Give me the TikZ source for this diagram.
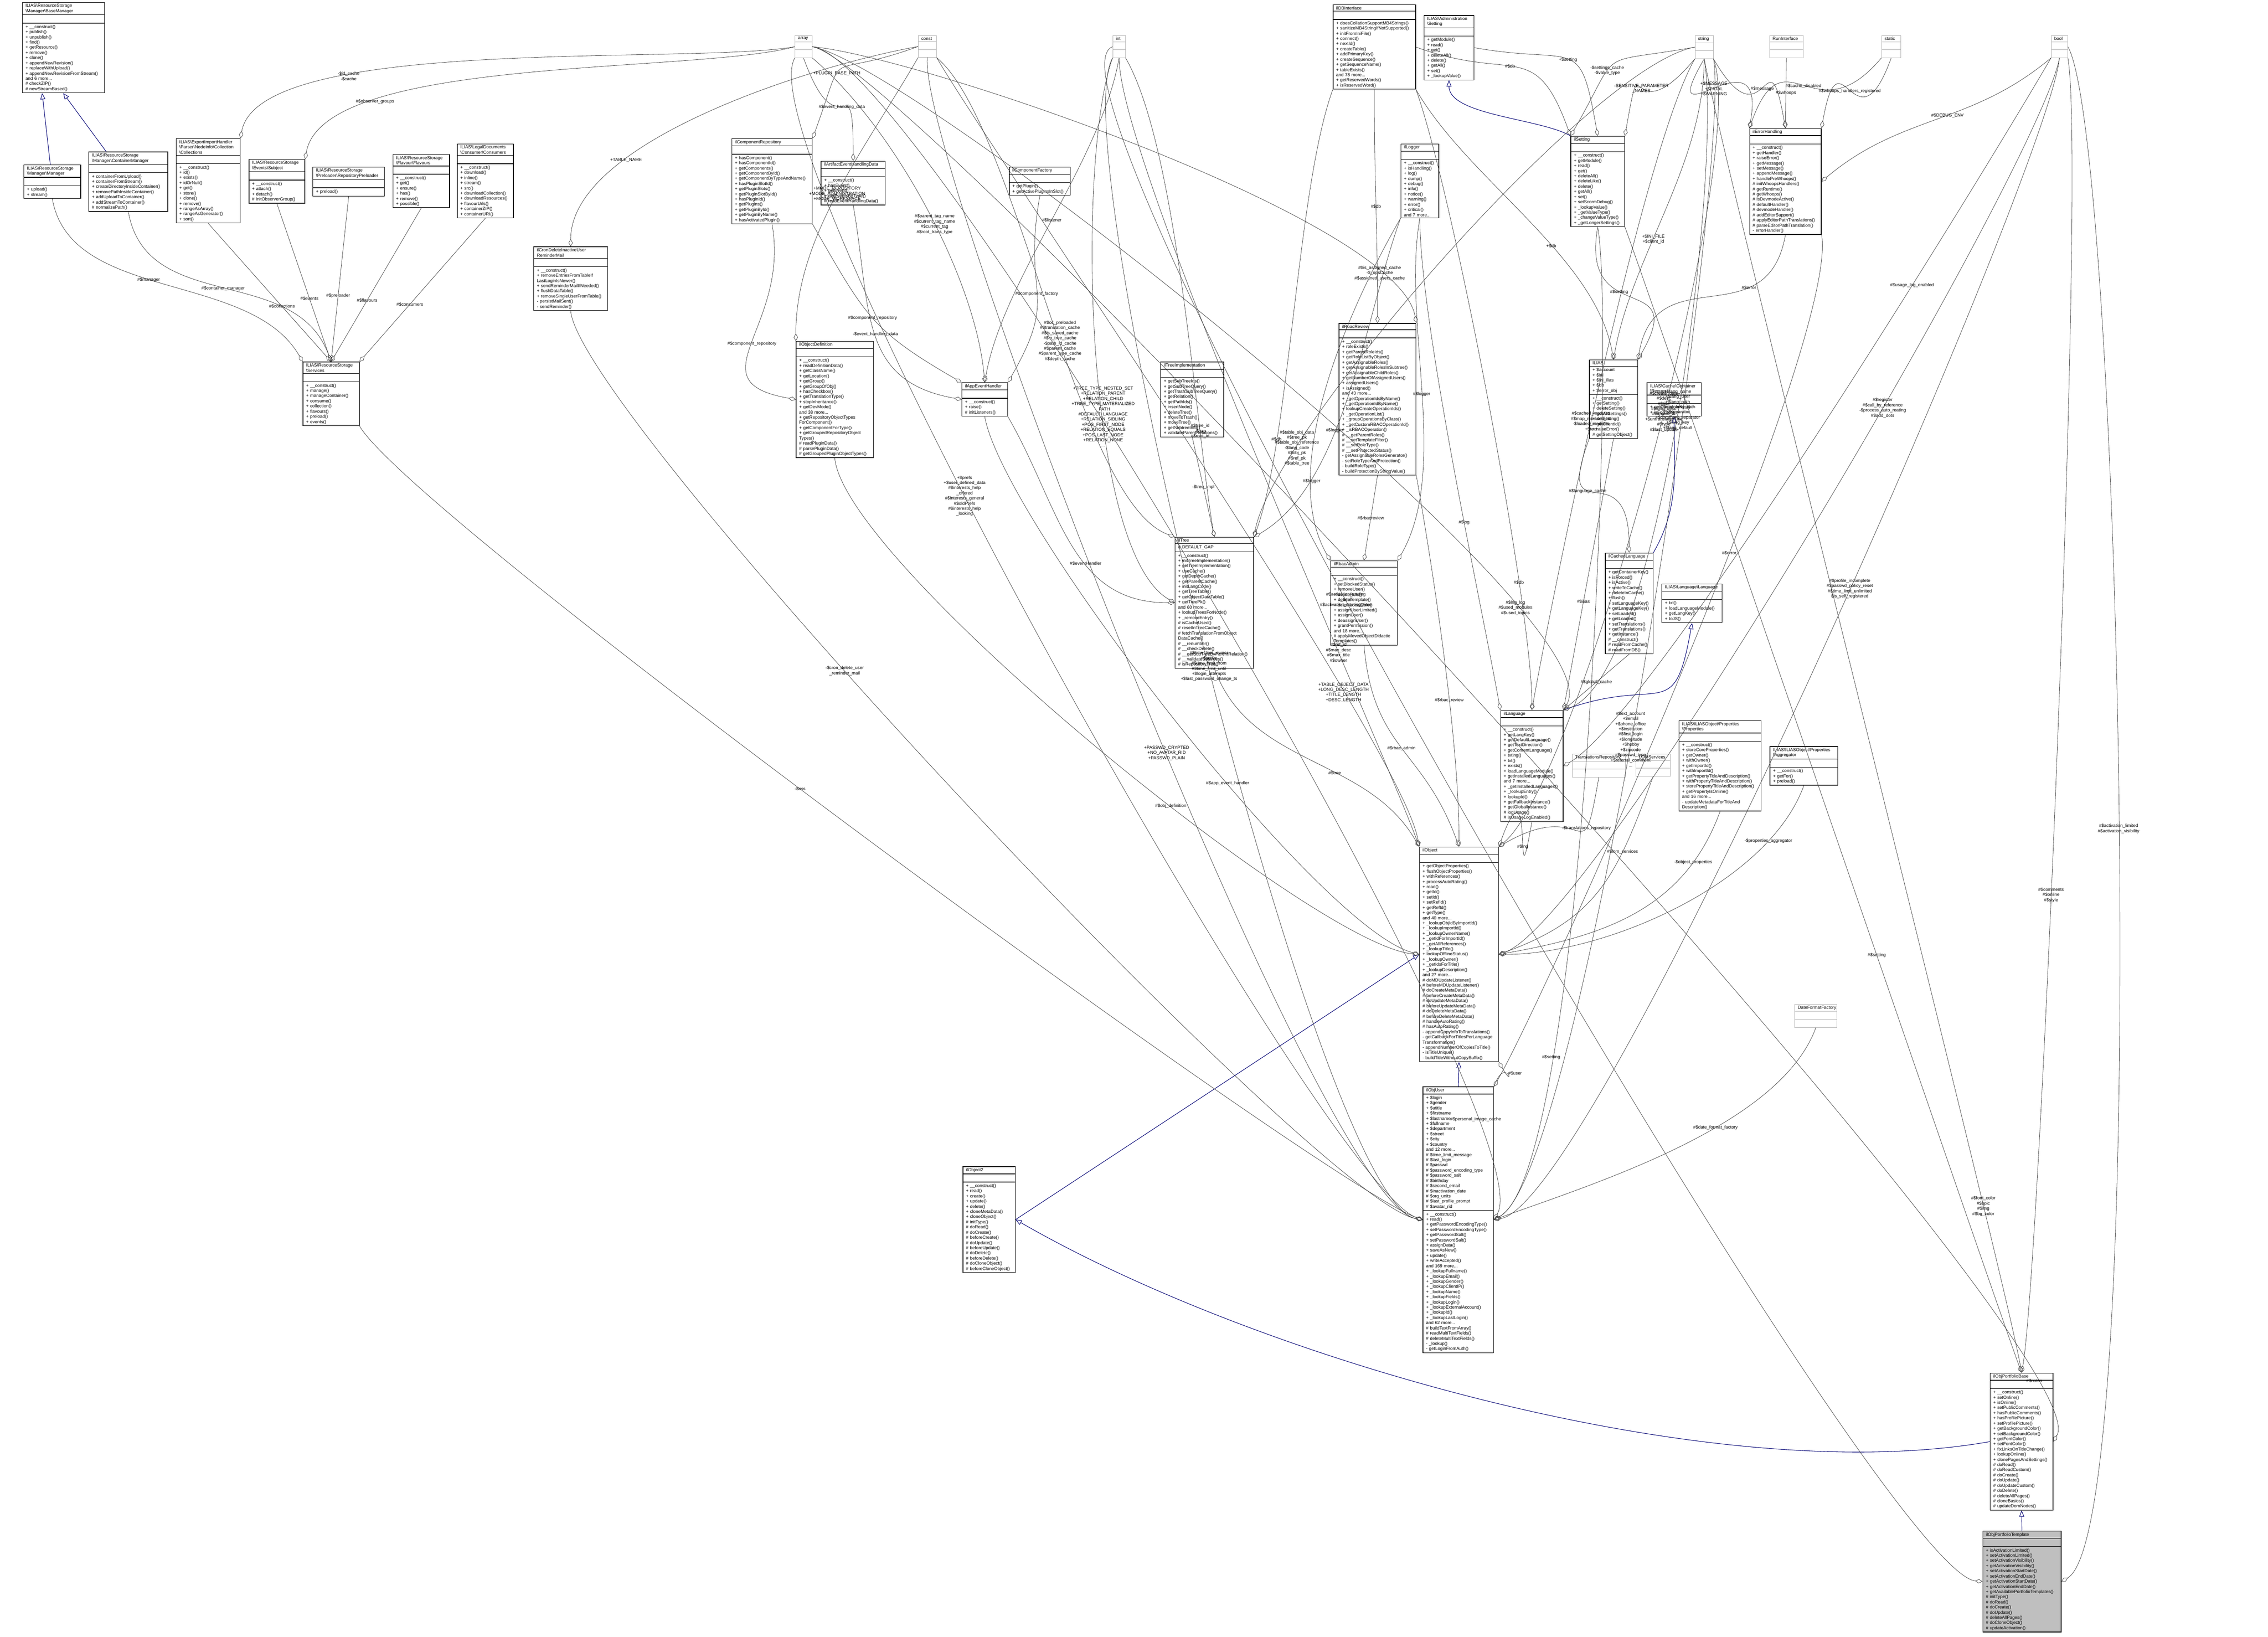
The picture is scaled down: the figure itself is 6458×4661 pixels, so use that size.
\documentclass[tikz,border=0pt]{standalone}
\usepackage{fontspec}
\setmainfont{Liberation Sans}
\usetikzlibrary{shapes.multipart,arrows.meta}

\newdimen\pxunit \pxunit=0.005cm
\newcommand{\bs}{\textbackslash}
% one class box: name, x, y, width (px), title, attributes, methods
\newcommand{\classbox}[8][]{%
  \node[umlclass,#1,text width=\dimexpr#4\pxunit-2.5pt\relax] (#2) at (#3)
    {#5\nodepart{two}\strut#6\nodepart{three}\strut#7#8};}

\tikzset{
  umlclass/.style={rectangle split, rectangle split parts=3, draw=black,
    line width=0.25pt, anchor=north west, inner xsep=1.25pt, inner ysep=0.5pt,
    rectangle split part align={center,left,left}, align=left,
    font=\fontsize{1.8}{2.1}\selectfont},
  typebox/.style={umlclass, draw=gray!60, line width=0.15pt},
  agg/.style={-{Diamond[open,length=3pt,width=1.7pt,line width=0.15pt]}, draw=black!75, line width=0.15pt},
  inh/.style={-{Triangle[open,length=2.5pt,width=2pt,line width=0.2pt]}, draw=blue!45!black, line width=0.2pt},
  lbl/.style={font=\fontsize{1.8}{2.1}\selectfont, align=center, inner sep=0.25pt}
}

\begin{document}
\begin{tikzpicture}[x=0.005cm, y=-0.005cm, every to/.append style={distance=1.5cm}]
\useasboundingbox (0,0) rectangle (6458,4661);

% types without documentation
\foreach \nm/\x/\w/\txt in {tarray/2263/49/array, tconst/2614/52/const, tint/3168/36/int,
  tstring/4826/52/string, trun/5038/96/RunInterface, tstatic/5357/55/static, tbool/5840/47/bool}
  \node[typebox, text width=\dimexpr\w\pxunit-2.5pt\relax] (\nm) at (\x,101)
    {\txt\nodepart{two}\strut\nodepart{three}\strut};

% resource storage
\classbox{bm}{63,6}{234}{ILIAS\bs ResourceStorage\\\bs Manager\bs BaseManager}{}{+ \_\_construct()\\+ publish()\\+ unpublish()\\+ find()\\+ getResource()\\+ remove()\\+ clone()\\+ appendNewRevision()\\+ replaceWithUpload()\\+ appendNewRevisionFromStream()\\and 6 more...\\\# checkZIP()\\\# newStreamBased()}{}
\classbox{mgr}{67,469}{162}{ILIAS\bs ResourceStorage\\\bs Manager\bs Manager}{}{+ upload()\\+ stream()}{}
\classbox{cmgr}{252,432}{225}{ILIAS\bs ResourceStorage\\\bs Manager\bs ContainerManager}{}{+ containerFromUpload()\\+ containerFromStream()\\+ createDirectoryInsideContainer()\\+ removePathInsideContainer()\\+ addUploadToContainer()\\+ addStreamToContainer()\\\# normalizePath()}{}
\classbox{coll}{501,394}{182}{ILIAS\bs ExportImportHandler\\\bs Parser\bs NodeInfo\bs Collection\\\bs Collections}{}{+ \_\_construct()\\+ id()\\+ exists()\\+ idOrNull()\\+ get()\\+ store()\\+ clone()\\+ remove()\\+ rangeAsArray()\\+ rangeAsGenerator()\\+ sort()}{}
\classbox{subj}{708,453}{159}{ILIAS\bs ResourceStorage\\\bs Events\bs Subject}{}{+ \_\_construct()\\+ attach()\\+ detach()\\\# initObserverGroup()}{}
\classbox{prel}{890,475}{204}{ILIAS\bs ResourceStorage\\\bs Preloader\bs RepositoryPreloader}{}{+ preload()}{}
\classbox{flav}{1118,439}{161}{ILIAS\bs ResourceStorage\\\bs Flavour\bs Flavours}{}{+ \_\_construct()\\+ get()\\+ ensure()\\+ has()\\+ remove()\\+ possible()}{}
\classbox{cons}{1301,409}{160}{ILIAS\bs LegalDocuments\\\bs Consumer\bs Consumers}{}{+ \_\_construct()\\+ download()\\+ inline()\\+ stream()\\+ src()\\+ downloadCollection()\\+ downloadResources()\\+ flavourUrls()\\+ containerZIP()\\+ containerURI()}{}
\classbox{serv}{862,1030}{160}{ILIAS\bs ResourceStorage\\\bs Services}{}{+ \_\_construct()\\+ manage()\\+ manageContainer()\\+ consume()\\+ collection()\\+ flavours()\\+ preload()\\+ events()}{}
\classbox{cron}{1519,702}{210}{ilCronDeleteInactiveUser\\ReminderMail}{}{+ \_\_construct()\\+ removeEntriesFromTableIf\\LastLoginIsNewer()\\+ sendReminderMailIfNeeded()\\+ flushDataTable()\\+ removeSingleUserFromTable()\\- persistMailSent()\\- sendReminder()}{}

% components and events
\classbox{crep}{2083,394}{229}{ilComponentRepository}{}{+ hasComponent()\\+ hasComponentId()\\+ getComponents()\\+ getComponentById()\\+ getComponentByTypeAndName()\\+ hasPluginSlotId()\\+ getPluginSlots()\\+ getPluginSlotById()\\+ hasPluginId()\\+ getPlugins()\\+ getPluginById()\\+ getPluginByName()\\+ hasActivatedPlugin()}{}
\classbox{artf}{2337,458}{183}{ilArtifactEventHandlingData}{}{+ \_\_construct()\\+ hasEvent()\\+ getEvent()\\+ getEventsByType()\\\# readEventHandlingData()}{}
\classbox{cfac}{2873,475}{174}{ilComponentFactory}{}{+ getPlugin()\\+ getActivePluginsInSlot()}{}
\classbox{odef}{2266,971}{220}{ilObjectDefinition}{}{+ \_\_construct()\\+ readDefinitionData()\\+ getClassName()\\+ getLocation()\\+ getGroup()\\+ getGroupOfObj()\\+ hasCheckbox()\\+ getTranslationType()\\+ stopInheritance()\\+ getDevMode()\\and 38 more...\\+ getRepositoryObjectTypes\\ForComponent()\\+ getComponentForType()\\+ getGroupedRepositoryObject\\Types()\\\# readPluginData()\\\# parsePluginData()\\\# getGroupedPluginObjectTypes()}{}
\classbox{aeh}{2738,1089}{130}{ilAppEventHandler}{}{+ \_\_construct()\\+ raise()\\\# initListeners()}{}

% database, settings, logging
\classbox{db}{3795,13}{235}{ilDBInterface}{}{+ doesCollationSupportMB4Strings()\\+ sanitizeMB4StringIfNotSupported()\\+ initFromIniFile()\\+ connect()\\+ nextId()\\+ createTable()\\+ addPrimaryKey()\\+ createSequence()\\+ getSequenceName()\\+ tableExists()\\and 78 more...\\+ getReservedWords()\\+ isReservedWord()}{}
\classbox{aset}{4054,43}{142}{ILIAS\bs Administration\\\bs Setting}{}{+ getModule()\\+ read()\\+ get()\\+ deleteAll()\\+ delete()\\+ getAll()\\+ set()\\+ \_lookupValue()}{}
\classbox{log}{3988,409}{108}{ilLogger}{}{+ \_\_construct()\\+ isHandling()\\+ log()\\+ dump()\\+ debug()\\+ info()\\+ notice()\\+ warning()\\+ error()\\+ critical()\\and 7 more...}{}
\classbox{iset}{4472,387}{153}{ilSetting}{}{+ \_\_construct()\\+ getModule()\\+ read()\\+ get()\\+ deleteAll()\\+ deleteLike()\\+ delete()\\+ getAll()\\+ set()\\+ setScormDebug()\\+ \_lookupValue()\\+ \_getValueType()\\+ \_changeValueType()\\+ \_getLongerSettings()}{}
\classbox{err}{4981,365}{204}{ilErrorHandling}{}{+ \_\_construct()\\+ getHandler()\\+ raiseError()\\+ getMessage()\\+ setMessage()\\+ appendMessage()\\+ handlePreWhoops()\\\# initWhoopsHandlers()\\\# getRuntime()\\\# getWhoops()\\\# isDevmodeActive()\\\# defaultHandler()\\\# devmodeHandler()\\\# addEditorSupport()\\\# applyEditorPathTranslations()\\\# parseEditorPathTranslation()\\- errorHandler()}{}

% tree and rbac
\classbox{timpl}{3304,1030}{180}{ilTreeImplementation}{}{+ getSubTreeIds()\\+ getSubTreeQuery()\\+ getTrashSubTreeQuery()\\+ getRelation()\\+ getPathIds()\\+ insertNode()\\+ deleteTree()\\+ moveToTrash()\\+ moveTree()\\+ getSubtreeInfo()\\+ validateParentRelations()}{}
\classbox{tree}{3345,1529}{224}{ilTree}{\# DEFAULT\_GAP}{+ \_\_construct()\\+ initTreeImplementation()\\+ getTreeImplementation()\\+ useCache()\\+ getDepthCache()\\+ getParentCache()\\+ initLangCode()\\+ getTreeTable()\\+ getObjectDataTable()\\+ getTreePk()\\and 60 more...\\+ lookupTreesForNode()\\+ \_removeEntry()\\\# isCacheUsed()\\\# resetInTreeCache()\\\# fetchTranslationFromObject\\DataCache()\\\# \_\_renumber()\\\# \_\_checkDelete()\\\# \_\_getSubTreeByParentRelation()\\\# \_\_validateSubtrees()\\\# isRepositoryTree()}{}
\classbox{rrev}{3812,920}{219}{ilRbacReview}{}{+ \_\_construct()\\+ roleExists()\\+ getParentRoleIds()\\+ getRoleListByObject()\\+ getAssignableRoles()\\+ getAssignableRolesInSubtree()\\+ getAssignableChildRoles()\\+ getNumberOfAssignedUsers()\\+ assignedUsers()\\+ isAssigned()\\and 43 more...\\+ \_getOperationIdsByName()\\+ \_getOperationIdByName()\\+ lookupCreateOperationIds()\\+ \_getOperationList()\\+ \_groupOperationsByClass()\\+ \_getCustomRBACOperationId()\\+ \_isRBACOperation()\\\# \_\_getParentRoles()\\\# \_\_setTemplateFilter()\\\# \_\_setRoleType()\\\# \_\_setProtectedStatus()\\- getAssignableRolesGenerator()\\- setRoleTypeAndProtection()\\- buildRoleType()\\- buildProtectionByStringValue()}{}
\classbox{radm}{3788,1596}{190}{ilRbacAdmin}{}{+ \_\_construct()\\+ setBlockedStatus()\\+ removeUser()\\+ deleteRole()\\+ deleteTemplate()\\+ deleteLocalRole()\\+ assignUserLimited()\\+ assignUser()\\+ deassignUser()\\+ grantPermission()\\and 18 more...\\\# applyMovedObjectDidactic\\Templates()}{}

% language
\classbox{ilias}{4525,1024}{137}{ILIAS}{+ \$account\\+ \$ini\\+ \$ini\_ilias\\+ \$db\\+ \$error\_obj}{+ \_\_construct()\\+ getSetting()\\+ deleteSetting()\\+ getAllSettings()\\+ setSetting()\\+ getClientId()\\+ raiseError()\\\# getSettingObject()}{}
\classbox{req}{4689,1089}{154}{ILIAS\bs Cache\bs Container\\\bs Request}{}{+ getContainerKey()\\+ isForced()}{}
\classbox{clang}{4570,1574}{136}{ilCachedLanguage}{}{+ getContainerKey()\\+ isForced()\\+ isActive()\\+ writeToCache()\\+ deleteInCache()\\+ flush()\\+ setLanguageKey()\\+ getLanguageKey()\\+ setLoaded()\\+ getLoaded()\\+ setTranslations()\\+ getTranslations()\\+ getInstance()\\\# \_\_construct()\\\# readFromCache()\\\# readFromDB()}{}
\classbox{llang}{4731,1662}{172}{ILIAS\bs Language\bs Language}{}{+ txt()\\+ loadLanguageModule()\\+ getLangKey()\\+ toJS()}{}
\classbox{lang}{4272,2022}{178}{ilLanguage}{}{+ \_\_construct()\\+ getLangKey()\\+ getDefaultLanguage()\\+ getTextDirection()\\+ getContentLanguage()\\+ txtlng()\\+ txt()\\+ exists()\\+ loadLanguageModule()\\+ getInstalledLanguages()\\and 7 more...\\+ \_getInstalledLanguages()\\+ \_lookupEntry()\\+ lookupId()\\+ getFallbackInstance()\\+ getGlobalInstance()\\\# logUsage()\\\# isUsageLogEnabled()}{}
\classbox[typebox]{trep}{4476,2147}{152}{TranslationsRepository}{}{}{}
\classbox[typebox]{lom}{4657,2147}{99}{LOMServices}{}{}{}
\classbox{props}{4780,2051}{234}{ILIAS\bs ILIASObject\bs Properties\\\bs Properties}{}{+ \_\_construct()\\+ storeCoreProperties()\\+ getOwner()\\+ withOwner()\\+ getImportId()\\+ withImportId()\\+ getPropertyTitleAndDescription()\\+ withPropertyTitleAndDescription()\\+ storePropertyTitleAndDescription()\\+ getPropertyIsOnline()\\and 16 more...\\- updateMetadataForTitleAnd\\Description()}{}
\classbox{aggr}{5039,2125}{193}{ILIAS\bs ILIASObject\bs Properties\\\bs Aggregator}{}{+ \_\_construct()\\+ getFor()\\+ preload()}{}
\classbox[typebox]{dff}{5110,2860}{120}{DateFormatFactory}{}{}{}

% objects
\classbox{obj}{4041,2411}{225}{ilObject}{}{+ getObjectProperties()\\+ flushObjectProperties()\\+ withReferences()\\+ processAutoRating()\\+ read()\\+ getId()\\+ setId()\\+ setRefId()\\+ getRefId()\\+ getType()\\and 40 more...\\+ \_lookupObjIdByImportId()\\+ \_lookupImportId()\\+ \_lookupOwnerName()\\+ \_getIdForImportId()\\+ \_getAllReferences()\\+ \_lookupTitle()\\+ lookupOfflineStatus()\\+ \_lookupOwner()\\+ \_getIdsForTitle()\\+ \_lookupDescription()\\and 27 more...\\\# doMDUpdateListener()\\\# beforeMDUpdateListener()\\\# doCreateMetaData()\\\# beforeCreateMetaData()\\\# doUpdateMetaData()\\\# beforeUpdateMetaData()\\\# doDeleteMetaData()\\\# beforeDeleteMetaData()\\\# handleAutoRating()\\\# hasAutoRating()\\- appendCopyInfoToTranslations()\\- getCallbackForTitlesPerLanguage\\Transformation()\\- appendNumberOfCopiesToTitle()\\- isTitleUnique()\\- buildTitleWithoutCopySuffix()}{}
\classbox{user}{4051,3094}{201}{ilObjUser}{+ \$login\\+ \$gender\\+ \$utitle\\+ \$firstname\\+ \$lastname\\+ \$fullname\\+ \$department\\+ \$street\\+ \$city\\+ \$country\\and 12 more...\\\# \$time\_limit\_message\\\# \$last\_login\\\# \$passwd\\\# \$password\_encoding\_type\\\# \$password\_salt\\\# \$birthday\\\# \$second\_email\\\# \$inactivation\_date\\\# \$org\_units\\\# \$last\_profile\_prompt\\\# \$avatar\_rid}{+ \_\_construct()\\+ read()\\+ getPasswordEncodingType()\\+ setPasswordEncodingType()\\+ getPasswordSalt()\\+ setPasswordSalt()\\+ assignData()\\+ saveAsNew()\\+ update()\\+ writeAccepted()\\and 169 more...\\+ \_lookupFullname()\\+ \_lookupEmail()\\+ \_lookupGender()\\+ \_lookupClientIP()\\+ \_lookupName()\\+ \_lookupFields()\\+ \_lookupLogin()\\+ \_lookupExternalAccount()\\+ \_lookupId()\\+ \_lookupLastLogin()\\and 62 more...\\\# buildTextFromArray()\\\# readMultiTextFields()\\\# deleteMultiTextFields()\\- \_lookup()\\- getLoginFromAuth()}{}
\classbox{obj2}{2741,3321}{149}{ilObject2}{}{+ \_\_construct()\\+ read()\\+ create()\\+ update()\\+ delete()\\+ cloneMetaData()\\+ cloneObject()\\\# initType()\\\# doRead()\\\# doCreate()\\\# beforeCreate()\\\# doUpdate()\\\# beforeUpdate()\\\# doDelete()\\\# beforeDelete()\\\# doCloneObject()\\\# beforeCloneObject()}{}
\classbox{pbase}{5666,3909}{179}{ilObjPortfolioBase}{}{+ \_\_construct()\\+ setOnline()\\+ isOnline()\\+ setPublicComments()\\+ hasPublicComments()\\+ hasProfilePicture()\\+ setProfilePicture()\\+ getBackgroundColor()\\+ setBackgroundColor()\\+ getFontColor()\\+ setFontColor()\\+ fixLinksOnTitleChange()\\+ lookupOnline()\\+ clonePagesAndSettings()\\\# doRead()\\\# doReadCustom()\\\# doCreate()\\\# doUpdate()\\\# doUpdateCustom()\\\# doDelete()\\\# deleteAllPages()\\\# cloneBasics()\\\# updateDomNodes()}{}
\classbox[fill=gray!50]{ptpl}{5645,4359}{223}{ilObjPortfolioTemplate}{}{+ isActivationLimited()\\+ setActivationLimited()\\+ setActivationVisibility()\\+ getActivationVisibility()\\+ setActivationStartDate()\\+ setActivationEndDate()\\+ getActivationStartDate()\\+ getActivationEndDate()\\+ getAvailablePortfolioTemplates()\\\# initType()\\\# doRead()\\\# doCreate()\\\# doUpdate()\\\# deleteAllPages()\\\# doCloneObject()\\\# updateActivation()}{}

% inheritance
\draw[inh] (mgr) -- (bm.south west -| 120,0);
\draw[inh] (cmgr) -- (bm.south east -| 180,0);
\draw[inh] (iset.north west) to[out=150,in=-90,distance=0.5cm] (aset.south);
\draw[inh] (clang.north east) to[out=60,in=-90,distance=0.75cm] (req.south);
\draw[inh] (lang.north east) to[out=20,in=-100] (llang.south);
\draw[inh] (user.north) -- (obj.south);
\draw[inh] (obj2.east) -- (obj.west);
\draw[inh] (pbase.west) to[out=190,in=-30,distance=4cm] (obj2.east);
\draw[inh] (ptpl.north) -- (pbase.south);

% resource storage members
\draw[agg] (mgr.south) to[out=-80,in=120] node[lbl,pos=0.45]{\#\$manager} (serv.north west);
\draw[agg] (cmgr.south) to[out=-80,in=110] node[lbl,pos=0.5]{\#\$container\_manager} (serv.north);
\draw[agg] (coll.south) -- node[lbl,pos=0.6]{\#\$collections} (serv.north);
\draw[agg] (subj.south) -- node[lbl,pos=0.6]{\#\$events} (serv.north);
\draw[agg] (prel.south) -- node[lbl,pos=0.6]{\#\$preloader} (serv.north);
\draw[agg] (flav.south) -- node[lbl,pos=0.6]{\#\$flavours} (serv.north);
\draw[agg] (cons.south) -- node[lbl,pos=0.6]{\#\$consumers} (serv.north east);
\draw[agg] (tarray.west) to[out=190,in=80] node[lbl,pos=0.7]{-\$id\_cache\\-\$cache} (coll.north east);
\draw[agg] (tarray.west) to[out=195,in=80] node[lbl,pos=0.75]{\#\$observer\_groups} (subj.north east);
\draw[agg] (tconst.west) to[out=190,in=90] node[lbl,pos=0.7]{+TABLE\_NAME} (cron.north);
\draw[agg] (serv.south east) to[out=-60,in=160] node[lbl,pos=0.45]{-\$irss} (user.west);
\draw[agg] (cron.south) to[out=-85,in=170] node[lbl,pos=0.4]{-\$cron\_delete\_user\\\_reminder\_mail} (user.west);

% components
\draw[agg] (tconst.south west) to[out=-120,in=90] node[lbl,pos=0.5]{+MODE\_REPOSITORY\\+MODE\_ADMINISTRATION\\+MODE\_WORKSPACE} (odef.north west);
\draw[agg] (tconst.west) to[out=200,in=70] node[lbl,pos=0.6]{+PLUGIN\_BASE\_PATH} (crep.north east);
\draw[agg] (tarray.south) to[out=-70,in=90] node[lbl,pos=0.5]{\#\$event\_handling\_data} (artf.north);
\draw[agg] (crep.south) to[out=-80,in=170] node[lbl,pos=0.5]{\#\$component\_repository} (odef.west);
\draw[agg] (crep.south east) to[out=-60,in=150] node[lbl,pos=0.5]{\#\$component\_repository} (aeh.north west);
\draw[agg] (artf.south) to[out=-80,in=170] node[lbl,pos=0.5]{-\$event\_handling\_data} (aeh.west);
\draw[agg] (cfac.south) to[out=-100,in=60] node[lbl,pos=0.5]{\#\$component\_factory} (aeh.north east);
\draw[agg] (tarray.south east) to[out=-40,in=95] node[lbl,pos=0.55]{\#\$parent\_tag\_name\\\#\$current\_tag\_name\\\#\$current\_tag\\\#\$root\_trans\_type} (aeh.north);
\draw[agg] (tint.south) to[out=-100,in=80] node[lbl,pos=0.5]{\#\$listener} (aeh.north);
\draw[agg] (odef.south) to[out=-85,in=175] node[lbl,pos=0.6]{\#\$obj\_definition} (obj.west);
\draw[agg] (aeh.south) to[out=-80,in=165] node[lbl,pos=0.6]{\#\$app\_event\_handler} (obj.west);
\draw[agg] (aeh.south east) to[out=-60,in=180] node[lbl,pos=0.6]{\#\$eventHandler} (tree.west);
\draw[agg] (tconst.south east) to[out=-60,in=100] node[lbl,pos=0.75]{+TABLE\_OBJECT\_DATA\\+LONG\_DESC\_LENGTH\\+TITLE\_LENGTH\\+DESC\_LENGTH} (obj.north west);
\draw[agg] (tint.south) to[out=-90,in=110] node[lbl,pos=0.7]{\#\$ref\_id\\\#\$max\_desc\\\#\$max\_title\\\#\$owner} (obj.north west);

% tree
\draw[agg] (tconst.south east) to[out=-40,in=160] node[lbl,pos=0.55]{\#\$oc\_preloaded\\\#\$translation\_cache\\\#\$is\_saved\_cache\\\#\$in\_tree\_cache\\-\$path\_id\_cache\\\#\$parent\_cache\\\#\$parent\_type\_cache\\\#\$depth\_cache} (tree.north west);
\draw[agg] (tint.south west) to[out=-110,in=150] node[lbl,pos=0.6]{+TREE\_TYPE\_NESTED\_SET\\+RELATION\_PARENT\\+RELATION\_CHILD\\+TREE\_TYPE\_MATERIALIZED\\\_PATH\\\#DEFAULT\_LANGUAGE\\+RELATION\_SIBLING\\+POS\_FIRST\_NODE\\+RELATION\_EQUALS\\+POS\_LAST\_NODE\\+RELATION\_NONE\\...} (tree.west);
\draw[agg] (tint.south east) to[out=-60,in=100] node[lbl,pos=0.75]{\#\$tree\_id\\-\$gap\\\#\$root\_id} (tree.north);
\draw[agg] (timpl.south) -- node[lbl,pos=0.5]{-\$tree\_impl} (tree.north);
\draw[agg] (db.south west) to[out=-110,in=70] node[lbl,pos=0.75]{\#\$db} (tree.north east);
\draw[agg] (log.south west) to[out=-110,in=30] node[lbl,pos=0.6]{\#\$logger} (tree.north east);
\draw[agg] (tstring.west) to[out=190,in=80] node[lbl,pos=0.8]{\#\$table\_obj\_data\\\#\$tree\_pk\\\#\$table\_obj\_reference\\-\$lang\_code\\\#\$obj\_pk\\\#\$ref\_pk\\\#\$table\_tree} (tree.north east);
\draw[agg] (tree.south) to[out=-70,in=120] node[lbl,pos=0.6]{\#\$tree} (obj.north west);

% rbac
\draw[agg] (tarray.east) to[out=-5,in=100] node[lbl,pos=0.85]{\#\$is\_assigned\_cache\\-\$\_opsCache\\\#\$assigned\_users\_cache} (rrev.north east);
\draw[agg] (db.south) to[out=-90,in=90] node[lbl,pos=0.5]{\#\$db} (rrev.north);
\draw[agg] (log.south) to[out=-100,in=60] node[lbl,pos=0.5]{\#\$logger} (radm.north east);
\draw[agg] (log.south west) to[out=-120,in=120] node[lbl,pos=0.75]{\#\$logger} (radm.north west);
\draw[agg] (rrev.south) -- node[lbl,pos=0.5]{\#\$rbacreview} (radm.north);
\draw[agg] (rrev.south east) to[out=-80,in=90] node[lbl,pos=0.6]{\#\$rbac\_review} (obj.north);
\draw[agg] (radm.south) to[out=-85,in=110] node[lbl,pos=0.5]{\#\$rbac\_admin} (obj.north);

% settings, error handling, ILIAS
\draw[agg] (tstring.west) to[out=190,in=60] node[lbl,pos=0.6]{-\$settings\_cache\\-\$value\_type} (iset.north west);
\draw[agg] (tstring.south west) to[out=-130,in=80] node[lbl,pos=0.5]{-SENSITIVE\_PARAMETER\\\_NAMES} (iset.north east);
\draw[agg] (aset.east) to[out=-10,in=100] node[lbl,pos=0.5]{+\$setting} (iset.north);
\draw[agg] (db.east) to[out=-20,in=110] node[lbl,pos=0.45]{\#\$db} (iset.north west);
\draw[agg] (tstring.south) to[out=-120,in=80] node[lbl,pos=0.5]{+\$MESSAGE\\+\$FATAL\\+\$WARNING} (err.north west);
\draw[agg] (tstatic.south west) to[out=-130,in=70] node[lbl,pos=0.5]{\#\$cache\_disabled} (err.north west);
\draw[agg] (tstring.south east) to[out=-60,in=100] node[lbl,pos=0.5]{\#\$message} (err.north);
\draw[agg] (trun.south) -- node[lbl,pos=0.5]{\#\$whoops} (err.north);
\draw[agg] (tstatic.south) to[out=-110,in=80] node[lbl,pos=0.5]{\#\$whoops\_handlers\_registered} (err.north east);
\draw[agg] (tbool.south west) to[out=-140,in=40] node[lbl,pos=0.45]{\#\$DEBUG\_ENV} (err.east);
\draw[agg] (iset.south) to[out=-100,in=60] node[lbl,pos=0.4]{\#\$setting} (ilias.north east);
\draw[agg] (err.south) to[out=-100,in=80] node[lbl,pos=0.3]{\#\$error} (ilias.north east);
\draw[agg] (db.south east) to[out=-60,in=100] node[lbl,pos=0.6]{+\$db} (ilias.north);
\draw[agg] (tstring.south) to[out=-90,in=80] node[lbl,pos=0.6]{+\$INI\_FILE\\+\$client\_id} (ilias.north);

% language
\draw[agg] (tstring.south west) to[out=-120,in=80] node[lbl,pos=0.55]{\#\$cached\_modules\\\#\$map\_modules\_txt\\-\$loaded\_modules\\+\$text} (lang.north);
\draw[agg] (ilias.south) -- node[lbl,pos=0.6]{\#\$ilias} (lang.north east);
\draw[agg] (clang.south) -- node[lbl,pos=0.5]{\#\$global\_cache} (lang.north east);
\draw[agg] (db.south east) to[out=-70,in=90] node[lbl,pos=0.75]{\#\$db} (lang.north);
\draw[agg] (log.south) to[out=-90,in=100] node[lbl,pos=0.6]{\#\$log} (lang.north west);
\draw[agg] (ilias.south west) to[out=-110,in=90] node[lbl,pos=0.4]{\#\$language\_cache} (clang.north);
\draw[agg] (tstring.south) to[out=-80,in=20] node[lbl,pos=0.5]{+\$lang\_name\\+\$lang\_user\\+\$lang\_path\\\#\$cust\_lang\_path\\+\$separator\\+\$comment\_separator\\+\$lang\_key\\+\$lang\_default} (lang.north east);
\draw[agg] (tbool.south west) to[out=-120,in=30] node[lbl,pos=0.35]{\#\$usage\_log\_enabled} (lang.east);
\draw[agg] (tarray.east) to[out=-10,in=60] node[lbl,pos=0.8]{\#\$lng\_log\\\#\$used\_modules\\\#\$used\_topics} (lang.north east);
\draw[agg] (lang.south) to[out=-100,in=70] node[lbl,pos=0.4]{\#\$lng} (obj.north east);
\draw[agg] (trep.south) to[out=-100,in=30] node[lbl,pos=0.3]{-\$translations\_repository} (obj.north east);
\draw[agg] (lom.south) to[out=-110,in=20] node[lbl,pos=0.3]{\#\$lom\_services} (obj.east);
\draw[agg] (props.south) to[out=-110,in=10] node[lbl,pos=0.2]{-\$object\_properties} (obj.east);
\draw[agg] (aggr.south) to[out=-110,in=0] node[lbl,pos=0.2]{-\$properties\_aggregator} (obj.east);

% object members
\draw[agg] (tstring.south east) to[out=-70,in=40] node[lbl,pos=0.45]{\#\$create\_date\\\#\$desc\\\#\$title\\\#\$long\_desc\\\#\$import\_id\\+\$untranslatedTitle\\\#\$type\\\#\$last\_update} (obj.north east);
\draw[agg] (tbool.south) to[out=-100,in=20] node[lbl,pos=0.4]{\#\$register\\\#\$call\_by\_reference\\-\$process\_auto\_reating\\\#\$add\_dots} (obj.east);
\draw[agg] (user.north east) to[out=70,in=-60,distance=0.5cm] node[lbl,pos=0.5,right]{\#\$user} (obj.south east);
\draw[agg] (err.south east) to[out=-80,in=60] node[lbl,pos=0.4]{\#\$error} (user.north east);
\draw[agg] (tstring.south east) to[out=-80,in=30] node[lbl,pos=0.55]{\#\$ext\_account\\+\$email\\+\$phone\_office\\+\$institution\\\#\$first\_login\\+\$longitude\\+\$hobby\\+\$zipcode\\\#\$passwd\_type\\+\$referral\_comment\\...} (user.east);
\draw[agg] (tarray.east) to[out=-5,in=60] node[lbl,pos=0.85]{\#\$personal\_image\_cache} (user.east);
\draw[agg] (tbool.south) to[out=-95,in=10] node[lbl,pos=0.45]{\#\$profile\_incomplete\\\#\$passwd\_policy\_reset\\\#\$time\_limit\_unlimited\\\$is\_self\_registered} (user.east);
\draw[agg] (dff.south) to[out=-110,in=20] node[lbl,pos=0.4]{\#\$date\_format\_factory} (user.east);
\draw[agg] (iset.south) to[out=-80,in=30] node[lbl,pos=0.75]{\#\$setting} (user.east);
\draw[agg] (tarray.south west) to[out=-120,in=160] node[lbl,pos=0.4]{+\$prefs\\+\$user\_defined\_data\\\#\$interests\_help\\\_offered\\\#\$interests\_general\\\#\$oldPrefs\\\#\$interests\_help\\\_looking} (user.west);
\draw[agg] (tint.south west) to[out=-120,in=170] node[lbl,pos=0.5]{\#\$time\_limit\_owner\\+\$active\\\#\$time\_limit\_from\\\#\$time\_limit\_until\\+\$login\_attempts\\+\$last\_password\_change\_ts} (user.west);
\draw[agg] (tconst.south) to[out=-95,in=170] node[lbl,pos=0.55]{+PASSWD\_CRYPTED\\+NO\_AVATAR\_RID\\+PASSWD\_PLAIN} (user.west);

% portfolio
\draw[agg] (tstring.south) to[out=-80,in=100] node[lbl,pos=0.8]{\#\$font\_color\\\#\$ppic\\\#\$img\\\#\$bg\_color} (pbase.north);
\draw[agg] (tbool.south east) to[out=-80,in=80] node[lbl,pos=0.6]{\#\$comments\\\#\$online\\\#\$style} (pbase.north);
\draw[agg] (iset.south east) to[out=-70,in=110] node[lbl,pos=0.6]{\#\$setting} (pbase.north);
\draw[agg] (tarray.east) to[out=-10,in=60] node[lbl,pos=0.9]{\#\$notes} (pbase.east);
\draw[agg] (tbool.east) to[out=-60,in=30] node[lbl,pos=0.5]{\#\$activation\_limited\\\#\$activation\_visibility} (ptpl.east);
\draw[agg] (tint.west) to[out=200,in=175] node[lbl,pos=0.4]{\#\$activation\_ending\\\_time\\\#\$activation\_starting\_time} (ptpl.west);
\end{tikzpicture}
\end{document}
